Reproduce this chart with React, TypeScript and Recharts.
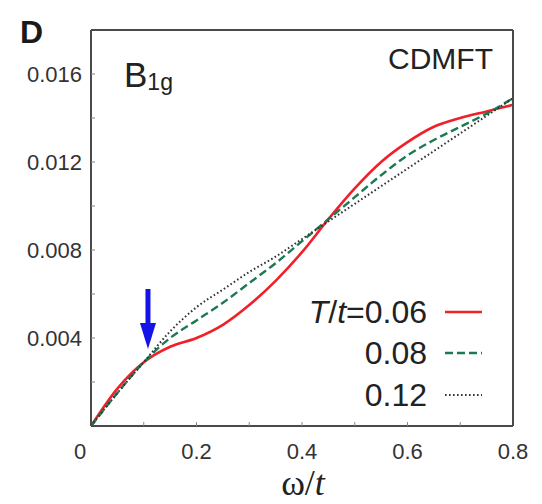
import { LineChart, Line, XAxis, YAxis, ReferenceDot } from "recharts";

// omega / t grid
const omega = [0, 0.05, 0.1, 0.15, 0.2, 0.25, 0.3, 0.35, 0.4, 0.45, 0.5, 0.55, 0.6, 0.65, 0.7, 0.75, 0.8];

// B1g response, CDMFT, three temperatures
const t006 = [0, 0.0017, 0.0029, 0.0036, 0.004, 0.0046, 0.0055, 0.0066, 0.0079, 0.0094, 0.0108, 0.012, 0.0129, 0.0136, 0.014, 0.0143, 0.0146];
const t008 = [0, 0.0015, 0.0029, 0.004, 0.0048, 0.0056, 0.0065, 0.0074, 0.0084, 0.0094, 0.0104, 0.0114, 0.0123, 0.013, 0.0136, 0.0142, 0.0149];
const t012 = [0, 0.0015, 0.0029, 0.0043, 0.0054, 0.0062, 0.007, 0.0077, 0.0085, 0.0093, 0.0101, 0.0109, 0.0117, 0.0125, 0.0133, 0.0141, 0.0149];

const xTicks = [0, 0.1, 0.2, 0.3, 0.4, 0.5, 0.6, 0.7, 0.8];
const yTicks = [0.002, 0.004, 0.006, 0.008, 0.01, 0.012, 0.014, 0.016];
const legendLabels = ["0.06", "0.08", "0.12"];

const data = omega.map((w, i) => ({ w, a: t006[i], b: t008[i], c: t012[i] }));

const series = [
  { key: "a", color: "#f0202a", dash: undefined, width: 2.6 },
  { key: "b", color: "#1b7a52", dash: "8 4", width: 2.4 },
  { key: "c", color: "#333333", dash: "1.6 2.4", width: 2 },
];

const FONT = "'Liberation Sans', Arial, sans-serif";
const SERIF = "'Liberation Serif', 'Times New Roman', serif";
const AXIS = "#4a4a4a";

function XTick({ x, y, payload }: any) {
  const v = payload.value;
  if (Math.round(v * 10) % 2 !== 0) return null;
  const label = v === 0 ? "0" : v.toFixed(1);
  return (
    <text x={v === 0 ? x - 11 : x} y={y + 27} textAnchor="middle" fontFamily={FONT} fontSize={22} fill="#333">
      {label}
    </text>
  );
}

function YTick({ x, y, payload }: any) {
  const v = payload.value;
  if (Math.round(v * 1000) % 4 !== 0) return null;
  return (
    <text x={x} y={y + 8} textAnchor="end" fontFamily={FONT} fontSize={22} fill="#333">
      {v.toFixed(3)}
    </text>
  );
}

function Arrow({ cx, cy }: any) {
  return (
    <g fill="#1414e8">
      <rect x={cx - 2.5} y={cy - 60} width={5} height={38} />
      <polygon points={`${cx - 8},${cy - 26} ${cx + 8},${cy - 26} ${cx},${cy}`} />
    </g>
  );
}

function LegendRows() {
  const rows = [323, 364, 406];
  return (
    <g>
      {series.map((s, i) => (
        <g key={s.key}>
          <text x={427} y={rows[i]} textAnchor="end" fontFamily={FONT} fontSize={32} fill="#222">
            {i === 0 ? (
              <>
                <tspan fontStyle="italic">T</tspan>/<tspan fontStyle="italic">t</tspan>={legendLabels[i]}
              </>
            ) : (
              legendLabels[i]
            )}
          </text>
          <line
            x1={445}
            x2={482}
            y1={rows[i] - 11}
            y2={rows[i] - 11}
            stroke={s.color}
            strokeWidth={s.width}
            strokeDasharray={s.dash}
          />
        </g>
      ))}
    </g>
  );
}

export default function App() {
  return (
    <div style={{ position: "absolute", left: 0, top: 0, width: 542, height: 504, background: "#fff" }}>
      <LineChart width={542} height={504} data={data} margin={{ top: 29, right: 28, bottom: 48, left: 31 }}>
        <XAxis
          dataKey="w"
          type="number"
          domain={[0, 0.8]}
          ticks={xTicks}
          height={30}
          tickSize={-4}
          tickMargin={10}
          tick={<XTick />}
          axisLine={{ stroke: AXIS, strokeWidth: 2 }}
          tickLine={{ stroke: "#888" }}
        />
        <XAxis
          xAxisId="top"
          orientation="top"
          dataKey="w"
          type="number"
          domain={[0, 0.8]}
          ticks={xTicks}
          height={1}
          tickSize={-4}
          tick={false}
          axisLine={{ stroke: AXIS, strokeWidth: 2 }}
          tickLine={{ stroke: "#888" }}
        />
        <YAxis
          type="number"
          domain={[0, 0.018]}
          ticks={yTicks}
          width={60}
          tickSize={-4}
          tickMargin={13}
          tick={<YTick />}
          axisLine={{ stroke: AXIS, strokeWidth: 2 }}
          tickLine={{ stroke: "#888" }}
        />
        <YAxis
          yAxisId="right"
          orientation="right"
          type="number"
          domain={[0, 0.018]}
          ticks={yTicks}
          width={1}
          tickSize={-4}
          tick={false}
          axisLine={{ stroke: AXIS, strokeWidth: 2 }}
          tickLine={{ stroke: "#888" }}
        />
        {series.map((s) => (
          <Line
            key={s.key}
            dataKey={s.key}
            type="monotone"
            stroke={s.color}
            strokeWidth={s.width}
            strokeDasharray={s.dash}
            dot={false}
            isAnimationActive={false}
          />
        ))}
        <ReferenceDot x={0.108} y={0.0035} shape={<Arrow />} />
      </LineChart>
      <svg width={542} height={504} style={{ position: "absolute", left: 0, top: 0, pointerEvents: "none" }}>
        <text x={20} y={43} fontFamily={FONT} fontWeight="bold" fontSize={32} fill="#1a1a1a">
          D
        </text>
        <text x={124} y={87} fontFamily={FONT} fontSize={35} fill="#222">
          B<tspan fontSize={23} dy={3}>1g</tspan>
        </text>
        <text x={493} y={69} textAnchor="end" fontFamily={FONT} fontSize={30} fill="#222">
          CDMFT
        </text>
        <LegendRows />
        <text x={303} y={495} textAnchor="middle" fontFamily={SERIF} fontSize={36} fill="#222">
          ω/<tspan fontStyle="italic">t</tspan>
        </text>
      </svg>
    </div>
  );
}
